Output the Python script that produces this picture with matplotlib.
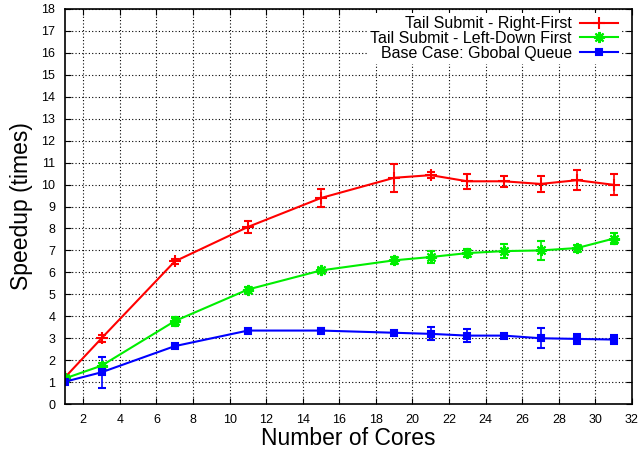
import matplotlib.pyplot as plt
from matplotlib.lines import Line2D

plt.rcParams['font.family'] = ['Liberation Sans', 'DejaVu Sans']

cores = [1, 3, 7, 11, 15, 19, 21, 23, 25, 27, 29, 31]

right_first = [1.22, 3.0, 6.5, 8.07, 9.39, 10.31, 10.43, 10.15, 10.15, 10.03, 10.2, 9.99]
right_first_err = [0.08, 0.15, 0.1, 0.27, 0.41, 0.63, 0.15, 0.33, 0.24, 0.38, 0.46, 0.48]

left_down = [1.17, 1.75, 3.78, 5.22, 6.09, 6.55, 6.7, 6.88, 6.97, 7.0, 7.11, 7.54]
left_down_err = [0.08, 0.1, 0.2, 0.1, 0.13, 0.17, 0.27, 0.2, 0.33, 0.45, 0.16, 0.25]

global_queue = [1.02, 1.45, 2.64, 3.35, 3.35, 3.25, 3.2, 3.12, 3.12, 3.0, 2.97, 2.94]
global_queue_err = [0.1, 0.7, 0.05, 0.08, 0.1, 0.1, 0.3, 0.3, 0.05, 0.45, 0.23, 0.19]

# gnuplot-like point types: plus, asterisk (plus + cross), filled square
series = [
    ("Tail Submit - Right-First", right_first, right_first_err, "#ff0000", "+", 8),
    ("Tail Submit - Left-Down First", left_down, left_down_err, "#00ee00", (8, 2, 0), 8),
    ("Base Case: Gbobal Queue", global_queue, global_queue_err, "#0000ff", "s", 5),
]

fig = plt.figure(figsize=(6.39, 4.49), dpi=100)
ax = fig.add_axes([0.1017, 0.1, 0.8873, 0.88])

handles = []
for label, vals, errs, color, marker, ms in series:
    ax.errorbar(cores, vals, yerr=errs, color=color, marker=marker, markersize=ms,
                markeredgewidth=1.5, linewidth=1.5, elinewidth=1.2, capsize=3,
                capthick=1.2)
    handles.append(Line2D([], [], color=color, marker=marker, markersize=ms,
                          markeredgewidth=1.5, linewidth=1.5, label=label))

ax.set_xlim(1, 32)
ax.set_ylim(0, 18)
ax.set_xticks(range(2, 33, 2))
ax.set_yticks(range(0, 19))
ax.tick_params(direction='in', top=True, right=True, labelsize=9, length=4, pad=7)
ax.grid(True, color='black', linestyle=(0, (1, 2)), linewidth=0.8)
for s in ax.spines.values():
    s.set_linewidth(1.2)
    s.set_zorder(5)

ax.set_xlabel("Number of Cores", fontsize=16.5, labelpad=1)
ax.set_ylabel("Speedup (times)", fontsize=16.5, labelpad=6)

# key sits on a white box that hides the grid behind it
leg = ax.legend(handles=handles, loc='upper right', bbox_to_anchor=(0.988, 1.0),
                frameon=True, facecolor='white', edgecolor='none', framealpha=1,
                fancybox=False, markerfirst=False, fontsize=11.5, handlelength=2.4,
                labelspacing=-0.02, borderaxespad=0.25, borderpad=0.2,
                handletextpad=0.5)
leg._legend_box.align = 'right'

fig.savefig("out.png", dpi=100)
